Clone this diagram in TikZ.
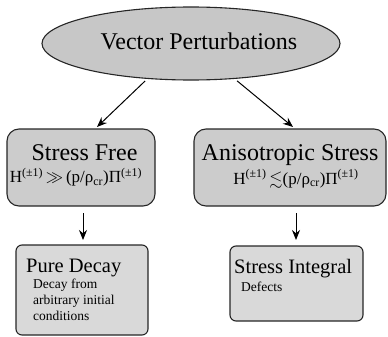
\documentclass[tikz,border=0pt]{standalone}
\usepackage{fontspec}
\usepackage{amssymb}
\setmainfont{Liberation Serif}
\usetikzlibrary{shapes.geometric,arrows.meta}

\tikzset{
  ovalbox/.style={draw=black!85, line width=1.1pt, fill=black!22, ellipse,
    minimum width=298pt, minimum height=73pt, inner sep=0pt},
  topbox/.style={draw=black!85, line width=1.1pt, fill=black!20,
    rounded corners=12pt, inner sep=0pt},
  lowbox/.style={draw=black!85, line width=1.1pt, fill=black!15,
    rounded corners=6pt, inner sep=0pt},
  link/.style={line width=1pt, -{Stealth[length=10pt,width=8pt]}},
  lbl/.style={inner sep=0pt, anchor=base, font=\rmfamily},
  lbll/.style={inner sep=0pt, anchor=base west, font=\rmfamily},
}

\newcommand{\bigfont}{\fontsize{24}{28}\selectfont}
\newcommand{\midfont}{\fontsize{20.5}{24}\selectfont}
\newcommand{\eqfont}{\fontsize{17}{20}\selectfont}
\newcommand{\smallfont}{\fontsize{13.5}{16}\selectfont}

\begin{document}
\begin{tikzpicture}[x=1pt, y=-1pt]
  \useasboundingbox (0,0) rectangle (388,337);

  % top oval
  \node[ovalbox] (vp) at (191,43.5) {};
  \node[lbl] (vpt) at (199,50) {\bigfont Vector Perturbations};

  % second row
  \node[topbox, minimum width=148pt, minimum height=77pt] (sf) at (81,167.5) {};
  \node[lbl] (sft) at (84.5,160) {\bigfont Stress Free};
  \node[lbl] (sfe) at (76,182.5) {\eqfont H\textsuperscript{(±1)}\,$\gg$\,(p/ρ\textsubscript{cr})Π\textsuperscript{(±1)}};

  \node[topbox, minimum width=192pt, minimum height=77pt] (as) at (290,167.5) {};
  \node[lbl] (ast) at (290,160.5) {\bigfont Anisotropic Stress};
  \node[lbl] (ase) at (296,184) {\eqfont H\textsuperscript{(±1)}\,$\lesssim$(p/ρ\textsubscript{cr})Π\textsuperscript{(±1)}};

  % third row
  \node[lowbox, minimum width=132pt, minimum height=90pt] (pd) at (82,290) {};
  \node[lbll] (pdt) at (26,272) {\midfont Pure Decay};
  \node[lbll] (pd1) at (33,288) {\smallfont Decay from};
  \node[lbll] (pd2) at (33,304) {\smallfont arbitrary initial};
  \node[lbll] (pd3) at (33,320) {\smallfont conditions};

  \node[lowbox, minimum width=133pt, minimum height=75pt] (si) at (296.5,283.5) {};
  \node[lbll] (sit) at (234,273) {\midfont Stress Integral};
  \node[lbll] (si1) at (241,291) {\smallfont Defects};

  % connectors
  \coordinate (sfin) at (97,127);
  \coordinate (asin) at (293,127);
  \coordinate (sfout) at (83,213);
  \coordinate (pdin) at (83,240);
  \coordinate (asout) at (296,213);
  \coordinate (siin) at (296,240);

  \draw[link, shorten <=3pt] (vp.219) -- (sfin);
  \draw[link, shorten <=3pt] (vp.321) -- (asin);
  \draw[link] (sfout) -- (pdin);
  \draw[link] (asout) -- (siin);
\end{tikzpicture}
\end{document}
